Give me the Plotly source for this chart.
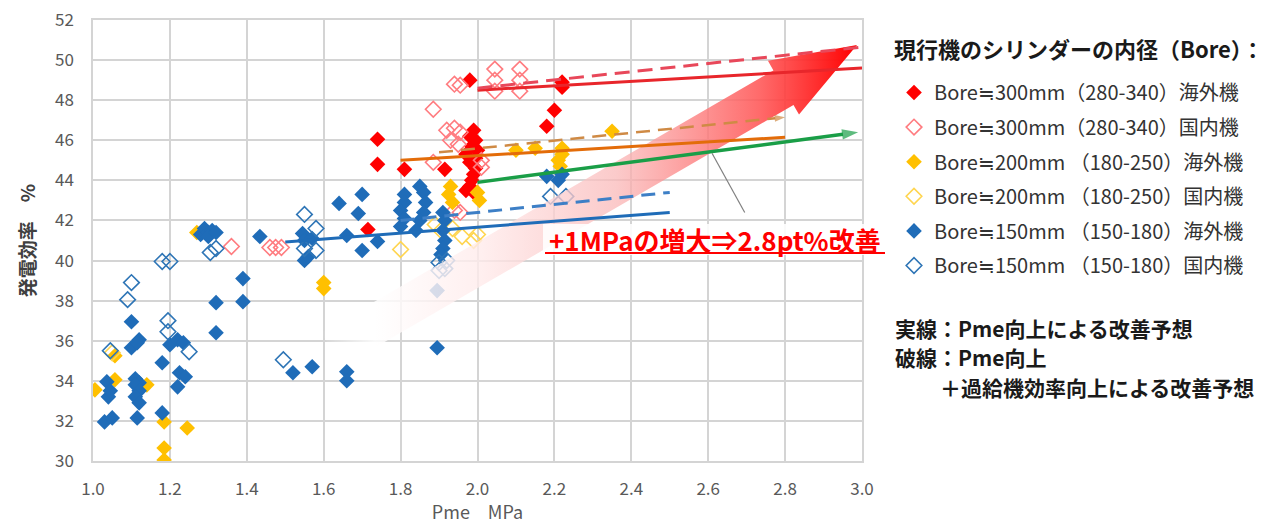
import plotly.graph_objects as go
import numpy as np

FONT = "Noto Sans CJK JP"

# ---------------- data ----------------
legend_title = "現行機のシリンダーの内径（Bore）："
series_names = [
    "Bore≒300mm（280-340）海外機",
    "Bore≒300mm（280-340）国内機",
    "Bore≒200mm （180-250）海外機",
    "Bore≒200mm （180-250）国内機",
    "Bore≒150mm （150-180）海外機",
    "Bore≒150mm （150-180）国内機",
]

red_filled_x = [1.74, 1.74, 1.81, 1.715, 1.915, 1.98, 1.99, 1.98, 1.995, 1.985, 2.0, 1.97, 1.995,
                1.98, 1.995, 1.99, 1.985, 1.98, 1.97, 1.99, 2.18, 2.20, 2.22, 2.22]
red_filled_y = [46.05, 44.8, 44.55, 41.55, 44.55, 49.0, 46.5, 46.2, 46.0, 45.7, 45.5, 45.3, 45.1,
                44.9, 44.6, 44.3, 44.0, 43.7, 43.5, 43.4, 46.7, 47.5, 48.9, 48.65]

pink_open_x = [1.36, 1.46, 1.475, 1.49, 1.885, 1.94, 1.955, 2.045, 2.045, 2.045, 2.11, 2.11, 2.11,
               1.92, 1.94, 1.955, 1.93, 1.95, 1.885, 2.01, 2.01, 1.94, 1.955]
pink_open_y = [40.7, 40.65, 40.65, 40.65, 47.55, 48.8, 48.75, 49.55, 49.0, 48.45, 49.55, 49.0, 48.45,
               46.5, 46.6, 46.4, 46.0, 45.8, 44.9, 45.0, 44.65, 42.5, 42.4]

yellow_filled_x = [1.005, 1.057, 1.057, 1.14, 1.185, 1.185, 1.185, 1.245, 1.27, 1.60, 1.60, 1.93,
                   1.925, 1.935, 2.0, 2.005, 2.10, 2.15, 2.22, 2.22, 2.21, 2.215, 2.35]
yellow_filled_y = [33.55, 35.25, 34.05, 33.8, 31.95, 30.65, 30.05, 31.65, 41.4, 38.9, 38.6, 43.7,
                   43.3, 42.9, 43.4, 43.0, 45.5, 45.6, 45.6, 45.3, 45.0, 44.7, 46.45]

yellow_open_x = [1.80, 1.05, 1.89, 1.905, 1.96, 1.935, 1.99, 2.0]
yellow_open_y = [40.55, 35.4, 41.8, 41.5, 41.2, 41.6, 41.0, 41.3]

blue_filled_x = [1.036, 1.04, 1.03, 1.05, 1.045, 1.10, 1.10, 1.12, 1.115, 1.11, 1.12, 1.11, 1.12,
                 1.11, 1.12, 1.115, 1.18, 1.18, 1.20, 1.22, 1.235, 1.225, 1.24, 1.22,
                 1.28, 1.29, 1.30, 1.31, 1.30, 1.32, 1.32, 1.32, 1.39, 1.39,
                 1.434, 1.545, 1.55, 1.57, 1.55, 1.56, 1.52, 1.57, 1.66, 1.66,
                 1.64, 1.69, 1.70, 1.66, 1.70, 1.74,
                 1.81, 1.81, 1.80, 1.81, 1.80, 1.85, 1.86, 1.865, 1.86, 1.85, 1.84,
                 1.91, 1.915, 1.91, 1.915, 1.91, 1.905, 1.895, 1.895, 2.18, 2.21, 2.22]
blue_filled_y = [33.95, 33.2, 31.95, 32.15, 33.5, 36.95, 35.65, 36.05, 35.9, 34.1, 33.9, 33.8, 33.5,
                 33.2, 32.9, 32.15, 34.9, 32.4, 35.8, 36.05, 35.9, 34.4, 34.2, 33.7,
                 41.3, 41.6, 41.4, 41.5, 41.2, 41.4, 37.9, 36.4, 39.1, 37.95,
                 41.2, 41.35, 41.0, 41.1, 40.0, 40.2, 34.4, 34.7, 34.45, 34.0,
                 42.85, 42.35, 43.3, 41.25, 40.5, 40.95,
                 43.3, 42.9, 42.5, 42.1, 41.7, 43.7, 43.4, 42.9, 42.4, 42.0, 41.5,
                 42.4, 42.0, 41.5, 41.0, 40.6, 40.3, 38.5, 35.65, 44.2, 44.0, 44.3]

blue_open_x = [1.10, 1.09, 1.18, 1.20, 1.195, 1.195, 1.25, 1.045, 1.495, 1.305, 1.32, 1.55, 1.58,
               1.55, 1.58, 1.90, 1.92, 1.90, 1.915, 2.19, 2.23]
blue_open_y = [38.9, 38.05, 39.95, 39.95, 37.0, 36.45, 35.45, 35.5, 35.05, 40.4, 40.6, 42.3, 41.6,
               40.6, 40.5, 39.9, 40.0, 39.5, 39.6, 43.2, 43.2]

# trend / forecast lines
red_solid_x, red_solid_y = [2.0, 3.0], [48.5, 49.6]
red_dash_x, red_dash_y = [2.0, 3.0], [48.6, 50.65]
orange_solid_x, orange_solid_y = [1.8, 2.8], [45.0, 46.15]
orange_dash_x, orange_dash_y = [1.9, 2.8], [45.4, 47.15]
green_x, green_y = [2.0, 2.99], [43.9, 46.4]
blue_solid_x, blue_solid_y = [1.5, 2.5], [40.93, 42.4]
blue_dash_x, blue_dash_y = [1.8, 2.5], [42.0, 43.4]

x_ticks = [1.0, 1.2, 1.4, 1.6, 1.8, 2.0, 2.2, 2.4, 2.6, 2.8, 3.0]
y_ticks = [30, 32, 34, 36, 38, 40, 42, 44, 46, 48, 50, 52]

# ---------------- layout geometry ----------------
OFF = 0                       # page body margin (removed via post_script)
W, H = 1285 - OFF, 524 - OFF
ML, MT = 93 - OFF, 20 - OFF
MR = W - (862 - OFF)
MB = H - (461 - OFF)
XR = [1.0, 3.0]
YR = [30, 52]
pw, ph = W - ML - MR, H - MT - MB
sx = pw / (XR[1] - XR[0])   # px per x unit
sy = ph / (YR[1] - YR[0])   # px per y unit


def paper_x(px):   # screenshot px -> paper
    return (px - OFF - ML) / pw


def paper_y(py):
    return (H - MB - (py - OFF)) / ph


fig = go.Figure()


def add_series(x, y, name, color, open_=False):
    if open_:
        marker = dict(symbol="diamond-open", size=12, color=color, line=dict(width=1.6, color=color))
    else:
        marker = dict(symbol="diamond", size=12, color=color, line=dict(width=0))
    fig.add_trace(go.Scatter(x=x, y=y, mode="markers", name=name, marker=marker,
                             legendgroup=name))


add_series(red_filled_x, red_filled_y, series_names[0], "#ff0000")
add_series(pink_open_x, pink_open_y, series_names[1], "#ff7c80", True)
add_series(yellow_filled_x, yellow_filled_y, series_names[2], "#ffc000")
add_series(yellow_open_x, yellow_open_y, series_names[3], "#ffd54f", True)
add_series(blue_filled_x, blue_filled_y, series_names[4], "#1f6cb8")
add_series(blue_open_x, blue_open_y, series_names[5], "#2e75b6", True)

# ---------------- big gradient arrow (annotation graphic) ----------------
tail = (1.62, 35.55)
tip = (2.987, 50.75)
shaft_half, head_half, head_len = 20, 31, 85  # px
tpx = np.array([(tail[0] - XR[0]) * sx, -(tail[1] - YR[0]) * sy])
hpx = np.array([(tip[0] - XR[0]) * sx, -(tip[1] - YR[0]) * sy])
u = (hpx - tpx) / np.linalg.norm(hpx - tpx)
n = np.array([-u[1], u[0]])
base = hpx - u * head_len
poly = [tpx + n * shaft_half, base + n * shaft_half, base + n * head_half, hpx,
        base - n * head_half, base - n * shaft_half, tpx - n * shaft_half, tpx + n * shaft_half]
ax_ = [XR[0] + p[0] / sx for p in poly]
ay_ = [YR[0] - p[1] / sy for p in poly]
fig.add_trace(go.Scatter(
    x=ax_, y=ay_, mode="lines", fill="toself", line=dict(width=0),
    fillgradient=dict(type="horizontal", colorscale=[
        [0.0, "rgba(255,255,255,0.0)"],
        [0.1, "rgba(255,255,255,0.85)"],
        [0.3, "rgba(255,235,235,0.8)"],
        [0.55, "rgba(250,185,185,0.75)"],
        [0.82, "rgba(255,85,85,0.88)"],
        [1.0, "rgba(255,0,0,1)"],
    ]),
    showlegend=False, hoverinfo="skip"))


# ---------------- lines ----------------
def add_line(x, y, color, dash="solid", arrow=False, width=3, asize=13):
    kw = dict(x=x, y=y, line=dict(color=color, width=width, dash=dash), showlegend=False,
              hoverinfo="skip")
    if arrow:
        kw["mode"] = "lines+markers"
        kw["marker"] = dict(symbol=["circle", "arrow"], size=[0, asize], color=color,
                            angleref="previous", line=dict(width=0))
    else:
        kw["mode"] = "lines"
    fig.add_trace(go.Scatter(**kw))


add_line(red_solid_x, red_solid_y, "#e8262b")
add_line(red_dash_x, red_dash_y, "#e8485a", dash="15px,8px")
add_line(orange_solid_x, orange_solid_y, "#e36c09")
add_line(orange_dash_x, orange_dash_y, "#cf8a45", dash="14px,8px", arrow=True, width=2.5, asize=11)
add_line(green_x, green_y, "#1a9e47", arrow=True, width=3.5, asize=17)
add_line(blue_solid_x, blue_solid_y, "#1f6cb8")
add_line(blue_dash_x, blue_dash_y, "#3d7fc6", dash="14px,8px")

# pointer line
fig.add_shape(type="line", x0=2.61, y0=45.35, x1=2.695, y1=42.4,
              line=dict(color="#808080", width=1.2), xref="x", yref="y")

# callout text with white backing and underline
fig.add_shape(type="rect", xref="paper", yref="paper",
              x0=paper_x(543), x1=paper_x(888), y0=paper_y(255), y1=paper_y(224),
              fillcolor="rgba(255,255,255,0.88)", line=dict(width=0), layer="above")
fig.add_shape(type="line", xref="paper", yref="paper",
              x0=paper_x(545), x1=paper_x(885), y0=paper_y(253), y1=paper_y(253),
              line=dict(color="#ff0000", width=2), layer="above")
fig.add_annotation(x=paper_x(715), y=paper_y(239), xref="paper", yref="paper",
                   xanchor="center", yanchor="middle",
                   text="+1MPaの増大⇒2.8pt%改善", showarrow=False,
                   font=dict(family=FONT, size=26, color="#ff0000", weight="bold"))

# legend heading
fig.add_annotation(x=paper_x(892), y=paper_y(48), xref="paper", yref="paper",
                   xanchor="left", yanchor="middle", text=legend_title, showarrow=False,
                   font=dict(family=FONT, size=22, color="#1a1a1a", weight="bold"))

# notes
notes = [("実線：Pme向上による改善予想", 893, 328),
         ("破線：Pme向上", 893, 357),
         ("＋過給機効率向上による改善予想", 938, 387)]
for t, px_, py_ in notes:
    fig.add_annotation(x=paper_x(px_), y=paper_y(py_), xref="paper", yref="paper",
                       xanchor="left", yanchor="middle", text=t, showarrow=False,
                       font=dict(family=FONT, size=21, color="#1a1a1a", weight="bold"))

fig.update_layout(
    width=W, height=H,
    margin=dict(l=ML, r=MR, t=MT, b=MB, autoexpand=False),
    plot_bgcolor="white", paper_bgcolor="white",
    font=dict(family=FONT, color="#595959"),
    showlegend=True,
    legend=dict(
        x=paper_x(894), y=paper_y(73), xanchor="left", yanchor="top",
        font=dict(family=FONT, size=20, color="#333333"),
        tracegroupgap=5.6, itemwidth=30, bgcolor="rgba(0,0,0,0)",
    ),
    xaxis=dict(range=XR, tickvals=x_ticks, tickformat=".1f", showgrid=True, gridcolor="#d4d4d4",
               gridwidth=1.5, zeroline=False, showline=True, linecolor="#d4d4d4", linewidth=1.5,
               mirror=True, ticks="", tickfont=dict(size=17, color="#595959"),
               ticklabelstandoff=12, automargin=False, ticklabeloverflow="allow",
               title=dict(text="Pme　MPa", font=dict(size=18, color="#595959"), standoff=4)),
    yaxis=dict(range=YR, tickvals=y_ticks, showgrid=True, gridcolor="#d4d4d4", gridwidth=1.5,
               zeroline=False, showline=True, linecolor="#d4d4d4", linewidth=1.5, mirror=True,
               ticks="", tickfont=dict(size=17, color="#595959"), ticklabelstandoff=14,
               automargin=False, ticklabeloverflow="allow",
               title=dict(text="発電効率　%", font=dict(size=19, color="#404040", weight="bold"),
                          standoff=14)),
)

fig.write_html("out.html", config={"displayModeBar": False},
               post_script="document.body.style.margin='0';document.body.style.overflow='hidden';")
